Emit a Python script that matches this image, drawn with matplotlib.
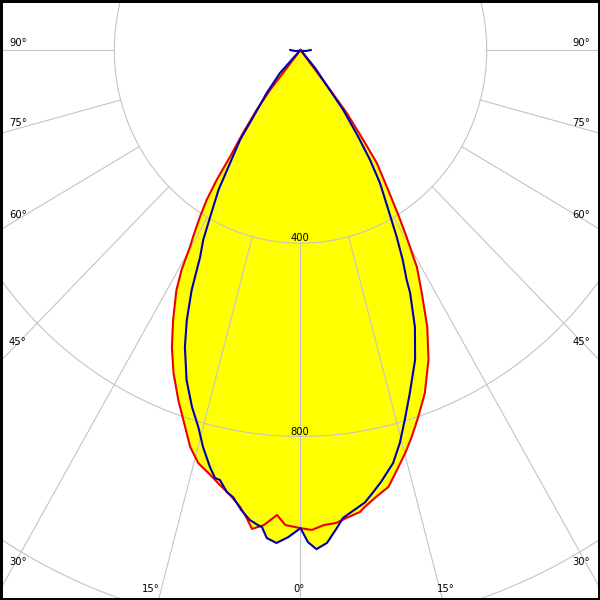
import numpy as np
import matplotlib
matplotlib.use("Agg")
import matplotlib.pyplot as plt
from matplotlib.patches import Rectangle

# ---- data (gamma angle in degrees, left side negative; intensity in cd) ----
red_gamma = [-90, -40, -38.3, -37.2, -35.7, -34.4, -33.8, -33.0, -32.0, -30.8, -30.2,
             -29.3, -28.2, -26.1, -24.2, -22.2, -19.9, -18.2, -16.1, -14.4, -12.5,
             -10.9, -9.3, -7.8, -6.8, -6.0, -4.6, -3.0, -1.9, 0, 1.4, 2.9, 4.5, 5.8,
             7.6, 8.3, 10.0, 11.8, 13.4, 15.1, 16.6, 18.4, 20.6, 23.2, 25.4, 27.4,
             29.1, 29.5, 30.5, 31.6, 33.0, 35.0, 35.9, 37.3, 37.6, 39.5, 90]
red_cd = [0, 0, 105, 156, 212, 268, 324, 370, 408, 451, 472,
          522, 564, 622, 674, 722, 771, 806, 855, 883, 900,
          917, 934, 955, 976, 997, 987, 964, 984, 990, 994, 985, 982, 974,
          965, 956, 939, 924, 894, 864, 836, 801, 759, 698, 635, 566,
          514, 492, 449, 401, 346, 286, 230, 164, 104, 0, 0]

blue_gamma = [-90, -80, -70, -60, -45, -42.8, -39.2, -36.2, -34.9, -32.6, -31.3, -29.3, -28.0,
              -26.7, -25.2, -23.6, -22.0, -19.7, -17.5, -15.7, -14.3, -12.7, -11.7,
              -11.0, -9.8, -8.9, -7.6, -6.4, -5.3, -4.8, -4.1, -2.9, -1.5, 0, 0.9,
              1.9, 3.2, 4.5, 5.4, 6.6, 8.4, 9.8, 11.0, 13.1, 14.7, 16.3, 18.3, 21.0,
              23.2, 25.1, 25.6, 26.8, 28.1, 29.7, 31.8, 33.3, 34.6, 36.5, 37.5, 40,
              45, 60, 70, 80, 90]
blue_cd = [22, 12, 5, 3, 3, 65, 115, 172, 227, 288, 339, 397, 445,
           480, 549, 610, 663, 726, 775, 811, 848, 885, 905,
           907, 929, 937, 961, 979, 988, 991, 1013, 1022, 1009, 990, 1019,
           1034, 1022, 993, 973, 962, 947, 927, 910, 878, 841, 798, 748, 687,
           624, 555, 528, 487, 439, 381, 324, 272, 219, 155, 95, 50,
           3, 3, 5, 12, 22]

ring_values = [400, 800, 1200]
ring_labels = ["400", "800"]
spoke_angles = [-90, -75, -60, -45, -30, -15, 0, 15, 30, 45, 60, 75, 90]
side_labels = ["90\u00b0", "75\u00b0", "60\u00b0", "45\u00b0", "30\u00b0"]
bottom_labels = ["15\u00b0", "0\u00b0", "15\u00b0"]

# ---- layout ----
W = H = 600
fig = plt.figure(figsize=(6, 6), dpi=100)
fig.patch.set_facecolor("white")

rmax = 1400.0
sx, sy = 0.4655, 0.483          # pixels per cd (horizontal / vertical)
cx, cy = 300.5, 550.0            # pole position in pixels from bottom-left
hw, hh = rmax * sx, rmax * sy
ax = fig.add_axes([(cx - hw) / W, (cy - hh) / H, 2 * hw / W, 2 * hh / H],
                  projection="polar")
ax.set_aspect("auto")
ax.set_theta_zero_location("S")
ax.set_theta_direction(1)
ax.set_ylim(0, rmax)
ax.grid(False)
ax.set_xticks([])
ax.set_yticks([])
ax.spines["polar"].set_visible(False)
ax.patch.set_facecolor("white")

rt = np.deg2rad(red_gamma)
bt = np.deg2rad(blue_gamma)

# yellow fill of both curves
ax.fill(rt, red_cd, color="#ffff00", lw=0, zorder=1)
ax.fill(bt, blue_cd, color="#ffff00", lw=0, zorder=1)

# grid
grid_col = "#c4c4c4"
full = np.linspace(0, 2 * np.pi, 721)
for rv in ring_values:
    ax.plot(full, np.full_like(full, rv), color=grid_col, lw=0.8, zorder=2)
for a in spoke_angles:
    ax.plot([np.deg2rad(a)] * 2, [ring_values[0], rmax], color=grid_col, lw=0.8, zorder=2)

# curves
ax.plot(rt, red_cd, color="#ee0000", lw=1.5, zorder=3)
ax.plot(bt, blue_cd, color="#0000b0", lw=1.5, zorder=4)

# ---- text ----
fs = 7.2
def put(x, y, s, ha):
    fig.text(x / W, 1 - y / H, s, ha=ha, va="baseline", fontsize=fs, color="black",
             family="DejaVu Sans")

side_y = [46, 126, 218, 345, 565]
for s, y in zip(side_labels, side_y):
    put(9, y, s, "left")
    put(590, y, s, "right")
for s, x in zip(bottom_labels, [151, 299, 446]):
    put(x, 592.5, s, "center")
for s, y in zip(ring_labels, [240.7, 435]):
    put(299.5, y, s, "center")

# frame
fig.patches.append(Rectangle((0, 0), 1, 1, transform=fig.transFigure, fill=False,
                             ec="black", lw=3.6, zorder=10))

fig.savefig("out.png", dpi=100, facecolor="white")
